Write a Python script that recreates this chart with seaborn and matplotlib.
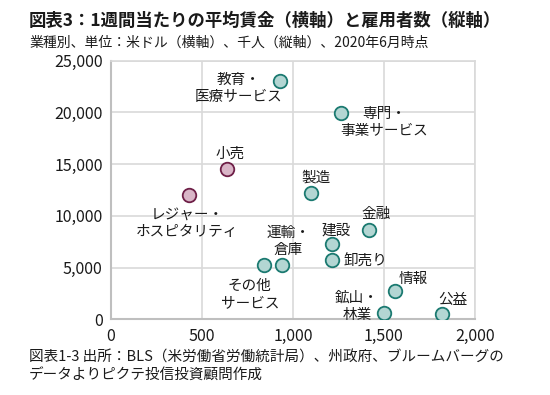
import matplotlib
matplotlib.use('Agg')
import matplotlib.pyplot as plt
import matplotlib.ticker as mticker
import seaborn as sns
import pandas as pd

# data
industries = ['教育・\n医療サービス', '専門・\n事業サービス', '製造', '金融', '建設', '卸売り',
              '運輸・\n倉庫', 'その他\nサービス', '情報', '鉱山・\n林業', '公益',
              '小売', 'レジャー・\nホスピタリティ']
wages = [930, 1265, 1100, 1420, 1215, 1215, 940, 840, 1560, 1500, 1820, 640, 430]
employees = [23000, 19900, 12250, 8650, 7250, 5700, 5200, 5200, 2700, 600, 500, 14500, 12000]
group = ['high'] * 11 + ['low'] * 2

# label offsets in pixels (x right, y up) from each point
label_dx = [-42, 43, 5, 7, 4, 33, 6, -14, 18, -27, 11, 3, -2]
label_dy = [-7, -9, 15, 16, 14, -1, 24, -29, 12, 7, 14, 16, -28]

df = pd.DataFrame({'industry': industries, 'wage': wages,
                   'emp': employees, 'group': group})

sns.set_style('white')
plt.rcParams['font.family'] = ['Noto Sans CJK JP', 'DejaVu Sans']

fig = plt.figure(figsize=(5.5, 3.95), dpi=100)
ax = fig.add_axes([0.2018, 0.1916, 0.6618, 0.6552])

styles = {'high': ('#b3d6d3', '#1b7a71'), 'low': ('#d9b5c7', '#6e1f47')}
for g, (fc, ec) in styles.items():
    sub = df[df['group'] == g]
    sns.scatterplot(data=sub, x='wage', y='emp', ax=ax, color=fc,
                    edgecolor=ec, linewidth=1.3, s=95, zorder=3, legend=False)

for i, r in df.iterrows():
    ax.annotate(r['industry'], (r['wage'], r['emp']),
                xytext=(label_dx[i], label_dy[i]), textcoords='offset pixels',
                ha='center', va='center', multialignment='center',
                fontsize=10.5, color='#1a1a1a', linespacing=1.3, zorder=4)

ax.set_xlim(0, 2000)
ax.set_ylim(0, 25000)
ax.xaxis.set_major_locator(mticker.MultipleLocator(500))
ax.yaxis.set_major_locator(mticker.MultipleLocator(5000))
ax.xaxis.set_major_formatter(mticker.StrMethodFormatter('{x:,.0f}'))
ax.yaxis.set_major_formatter(mticker.StrMethodFormatter('{x:,.0f}'))
ax.grid(True, color='#d9d9d9', linewidth=1.2)
ax.set_axisbelow(True)
for side in ['top', 'right']:
    ax.spines[side].set_color('#d9d9d9')
    ax.spines[side].set_linewidth(1.2)
for side in ['left', 'bottom']:
    ax.spines[side].set_color('#bfbfbf')
    ax.spines[side].set_linewidth(1.5)
ax.tick_params(axis='both', length=0, labelsize=11.5, labelcolor='#1a1a1a', pad=6)
ax.set_xlabel('')
ax.set_ylabel('')

fig.text(0.053, 0.948, '図表3：1週間当たりの平均賃金（横軸）と雇用者数（縦軸）',
         fontsize=12.5, fontweight='bold', color='#1a1a1a', va='center', ha='left')
fig.text(0.053, 0.891, '業種別、単位：米ドル（横軸）、千人（縦軸）、2020年6月時点',
         fontsize=10, color='#1a1a1a', va='center', ha='left')
fig.text(0.053, 0.096, '図表1-3 出所：BLS（米労働省労働統計局）、州政府、ブルームバーグの',
         fontsize=10.5, color='#1a1a1a', va='center', ha='left')
fig.text(0.053, 0.048, 'データよりピクテ投信投資顧問作成',
         fontsize=10.5, color='#1a1a1a', va='center', ha='left')

fig.savefig('out.png', dpi=100)
